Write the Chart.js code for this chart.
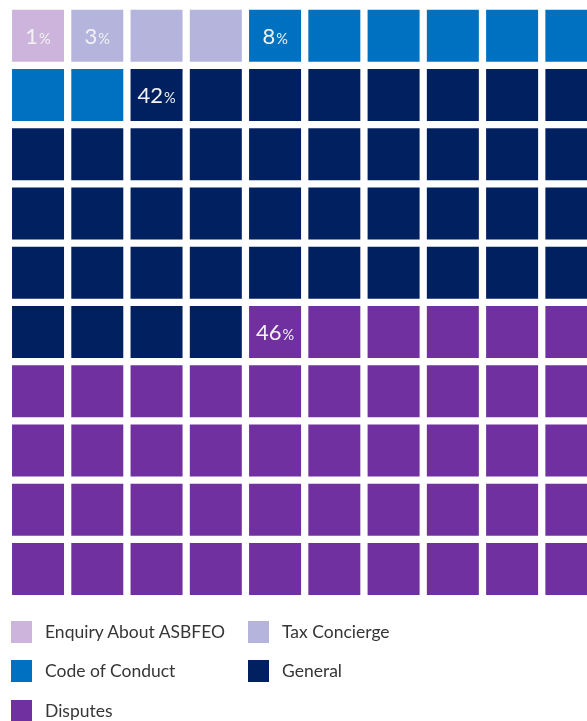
<!DOCTYPE html>
<html>
<head>
<meta charset="utf-8">
<script src="https://cdn.jsdelivr.net/npm/chart.js@4"></script>
<style>
  html, body { margin: 0; padding: 0; background: #ffffff; overflow: hidden; width: 587px; height: 721px; }
  #wrap { position: absolute; left: 0; top: 0; width: 602px; height: 600px; }
  #legend { position: absolute; left: 0; top: 0; width: 587px; height: 721px; pointer-events: none; font-family: Lato, "Open Sans", sans-serif; }
  .item { position: absolute; display: block; }
  .box { position: absolute; left: 0; top: 0; width: 21px; height: 22px; }
  .txt { position: absolute; left: 34px; top: -1px; font-size: 17.5px; line-height: 24px; color: #363636; white-space: nowrap; }
</style>
</head>
<body>
<div id="wrap"><canvas id="c"></canvas></div>
<div id="legend"></div>
<script>
// ---- data ----
const categories = ['Enquiry About ASBFEO', 'Tax Concierge', 'Code of Conduct', 'General', 'Disputes'];
const percentages = [1, 3, 8, 42, 46];
const colors = ['#cdb4dc', '#b4b4dc', '#0070c0', '#002060', '#7030a0'];
const gridColumns = 10;
const gridRows = 10;

// ---- build waffle cells from the counts ----
let cellIndex = 0;
const datasets = categories.map((name, k) => {
  const pts = [];
  for (let n = 0; n < percentages[k]; n++) {
    pts.push({ x: cellIndex % gridColumns, y: Math.floor(cellIndex / gridColumns) });
    cellIndex++;
  }
  return {
    label: name,
    data: pts,
    pointStyle: 'rect',
    pointRadius: 52 / Math.SQRT2,
    pointHoverRadius: 52 / Math.SQRT2,
    backgroundColor: colors[k],
    borderWidth: 0,
    clip: false
  };
});

const labelPlugin = {
  id: 'waffleLabels',
  afterDatasetsDraw(chart) {
    const ctx = chart.ctx;
    ctx.save();
    ctx.fillStyle = '#f2f2f2';
    ctx.textBaseline = 'alphabetic';
    chart.data.datasets.forEach((ds, i) => {
      const el = chart.getDatasetMeta(i).data[0];
      if (!el) return;
      const num = String(percentages[i]);
      const big = '22px Lato, "Open Sans", sans-serif';
      const small = '14.5px Lato, "Open Sans", sans-serif';
      ctx.font = big;
      const w1 = ctx.measureText(num).width;
      ctx.font = small;
      const w2 = ctx.measureText('%').width;
      const x0 = el.x - (w1 + w2 + 1) / 2;
      const yb = el.y + 8.5;
      ctx.font = big;
      ctx.fillText(num, x0, yb);
      ctx.font = small;
      ctx.fillText('%', x0 + w1 + 1, yb);
    });
    ctx.restore();
  }
};

new Chart(document.getElementById('c'), {
  type: 'scatter',
  data: { datasets },
  options: {
    responsive: true,
    maintainAspectRatio: false,
    animation: false,
    events: [],
    layout: { autoPadding: false, padding: { left: 8.4, right: 1, top: 6.1, bottom: 1.4 } },
    plugins: { legend: { display: false }, tooltip: { enabled: false } },
    scales: {
      x: { type: 'linear', min: -0.5, max: gridColumns - 0.5, display: false },
      y: { type: 'linear', min: -0.5, max: gridRows - 0.5, reverse: true, display: false }
    }
  },
  plugins: [labelPlugin]
});

// ---- legend (HTML, from the same arrays) ----
const legend = document.getElementById('legend');
const legendPos = [[11, 621], [248, 621], [11, 660], [248, 660], [11, 700]];
categories.forEach((name, k) => {
  const it = document.createElement('div');
  it.className = 'item';
  it.style.left = legendPos[k][0] + 'px';
  it.style.top = legendPos[k][1] + 'px';
  const b = document.createElement('div');
  b.className = 'box';
  b.style.background = colors[k];
  const t = document.createElement('div');
  t.className = 'txt';
  t.textContent = name;
  it.appendChild(b);
  it.appendChild(t);
  legend.appendChild(it);
});
</script>
</body>
</html>
